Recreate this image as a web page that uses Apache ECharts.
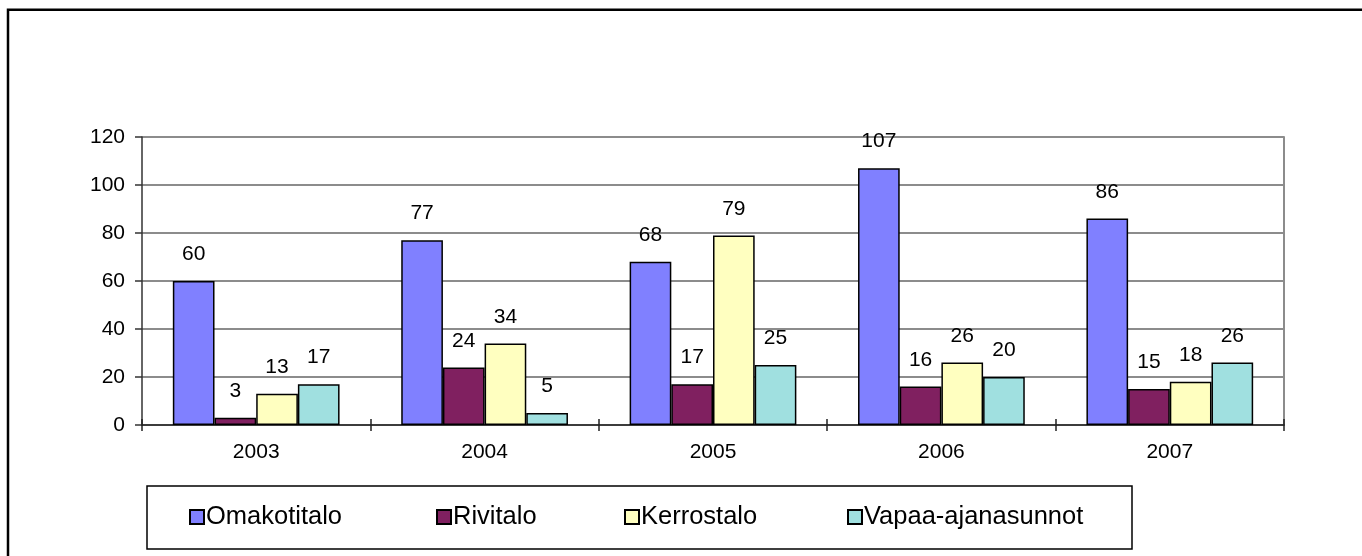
<!DOCTYPE html>
<html>
<head>
<meta charset="utf-8">
<script src="https://cdn.jsdelivr.net/npm/echarts@6/dist/echarts.min.js"></script>
<style>
html,body{margin:0;padding:0;background:#fff;}
#chart{width:1362px;height:556px;}
</style>
</head>
<body>
<div id="chart"></div>
<script>
var years = ['2003', '2004', '2005', '2006', '2007'];
var seriesNames = ['Omakotitalo', 'Rivitalo', 'Kerrostalo', 'Vapaa-ajanasunnot'];
var omakotitalo = [60, 77, 68, 107, 86];
var rivitalo = [3, 24, 17, 16, 15];
var kerrostalo = [13, 34, 79, 26, 18];
var vapaa = [17, 5, 25, 20, 26];
var yTicks = [0, 20, 40, 60, 80, 100, 120];

var colors = ['#8080FF', '#802060', '#FFFFC0', '#A0E0E0'];
var values = [omakotitalo, rivitalo, kerrostalo, vapaa];
var FONT = 'Arial, "Liberation Sans", sans-serif';

var chart = echarts.init(document.getElementById('chart'));

var series = seriesNames.map(function (name, i) {
  return {
    name: name,
    type: 'bar',
    data: values[i],
    barGap: '0%',
    barCategoryGap: '27%',
    itemStyle: { color: colors[i], borderColor: '#000', borderWidth: 1.5 },
    label: {
      show: true,
      position: 'top',
      distance: 16,
      color: '#000',
      fontSize: 21,
      fontFamily: FONT
    },
    emphasis: { disabled: true },
    animation: false
  };
});

var legendLefts = [189, 436, 624, 847];
var legends = seriesNames.map(function (name, i) {
  return {
    data: [name],
    left: legendLefts[i],
    top: 504,
    padding: 0,
    itemWidth: 14,
    itemHeight: 14,
    itemGap: 0,
    icon: 'rect',
    selectedMode: false,
    textStyle: { fontSize: 25.5, color: '#000', fontFamily: FONT, padding: [0, 0, 0, -3] }
  };
});

chart.setOption({
  animation: false,
  backgroundColor: '#fff',
  color: colors,
  grid: { left: 142, right: 78, top: 137, bottom: 131, containLabel: false },
  legend: legends,
  xAxis: [{
    type: 'category',
    data: years,
    position: 'bottom',
    axisLine: { show: true, lineStyle: { color: '#222', width: 1.5 } },
    axisTick: { show: true, length: 6, lineStyle: { color: '#222', width: 1.5 } },
    axisLabel: { color: '#000', fontSize: 21, fontFamily: FONT, margin: 17 },
    splitLine: { show: false }
  }, {
    type: 'category',
    data: years,
    position: 'bottom',
    axisLine: { show: false },
    axisTick: { show: true, inside: true, length: 6, lineStyle: { color: '#222', width: 1.5 } },
    axisLabel: { show: false },
    splitLine: { show: false }
  }],
  yAxis: [{
    type: 'value',
    min: yTicks[0],
    max: yTicks[yTicks.length - 1],
    interval: 20,
    axisLine: { show: true, lineStyle: { color: '#333', width: 1.5 } },
    axisTick: { show: true, length: 7, lineStyle: { color: '#333', width: 1.5 } },
    axisLabel: { color: '#000', fontSize: 21, fontFamily: FONT, margin: 17 },
    splitLine: { show: true, lineStyle: { color: '#8c8c8c', width: 2 } }
  }, {
    type: 'value',
    position: 'right',
    min: yTicks[0],
    max: yTicks[yTicks.length - 1],
    interval: 20,
    axisLine: { show: true, lineStyle: { color: '#8c8c8c', width: 2 } },
    axisTick: { show: false },
    axisLabel: { show: false },
    splitLine: { show: false }
  }],
  series: series,
  graphic: [{
    type: 'rect',
    shape: { x: 8, y: 9.7, width: 2000, height: 1000 },
    style: { fill: 'none', stroke: '#000', lineWidth: 2.5 },
    silent: true
  }, {
    type: 'rect',
    shape: { x: 147, y: 486, width: 985, height: 63 },
    style: { fill: 'none', stroke: '#000', lineWidth: 1.5 },
    silent: true
  }]
});
</script>
</body>
</html>
